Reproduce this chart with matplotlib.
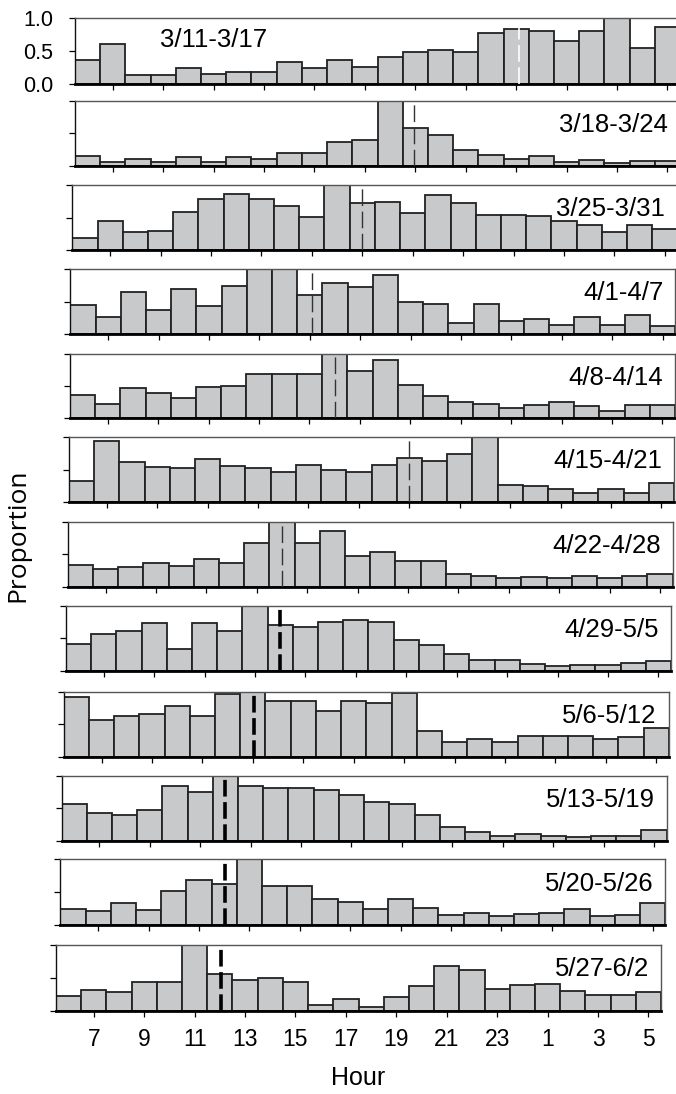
import matplotlib
matplotlib.use("Agg")
import matplotlib.pyplot as plt

# hours 6..23 then 0..5 (plotted at 6..29)
hours = list(range(6, 30))
tick_hours = list(range(7, 30, 2))
tick_labels = ["7", "9", "11", "13", "15", "17", "19", "21", "23", "1", "3", "5"]

weeks = ["3/11-3/17", "3/18-3/24", "3/25-3/31", "4/1-4/7", "4/8-4/14", "4/15-4/21",
         "4/22-4/28", "4/29-5/5", "5/6-5/12", "5/13-5/19", "5/20-5/26", "5/27-6/2"]

w1 = [0.36, 0.61, 0.13, 0.14, 0.25, 0.15, 0.19, 0.19, 0.33, 0.24, 0.37, 0.26,
      0.41, 0.49, 0.52, 0.49, 0.78, 0.84, 0.81, 0.66, 0.81, 1.00, 0.55, 0.87]
w2 = [0.15, 0.05, 0.11, 0.06, 0.14, 0.06, 0.13, 0.11, 0.19, 0.19, 0.36, 0.40,
      1.00, 0.58, 0.48, 0.24, 0.16, 0.10, 0.15, 0.06, 0.09, 0.04, 0.08, 0.08]
w3 = [0.19, 0.45, 0.28, 0.30, 0.58, 0.78, 0.86, 0.78, 0.68, 0.51, 1.00, 0.73,
      0.74, 0.57, 0.84, 0.72, 0.54, 0.54, 0.53, 0.44, 0.39, 0.27, 0.38, 0.33]
w4 = [0.45, 0.26, 0.65, 0.38, 0.69, 0.43, 0.75, 1.00, 1.00, 0.60, 0.79, 0.73,
      0.91, 0.49, 0.47, 0.17, 0.46, 0.21, 0.24, 0.15, 0.26, 0.15, 0.30, 0.13]
w5 = [0.36, 0.22, 0.47, 0.39, 0.32, 0.49, 0.51, 0.69, 0.69, 0.69, 1.00, 0.74,
      0.90, 0.52, 0.35, 0.25, 0.23, 0.16, 0.21, 0.26, 0.19, 0.12, 0.20, 0.21]
w6 = [0.32, 0.94, 0.62, 0.54, 0.52, 0.66, 0.56, 0.52, 0.46, 0.58, 0.49, 0.47,
      0.58, 0.68, 0.63, 0.74, 1.00, 0.27, 0.25, 0.21, 0.15, 0.21, 0.15, 0.30]
w7 = [0.33, 0.28, 0.30, 0.37, 0.32, 0.42, 0.37, 0.67, 1.00, 0.67, 0.85, 0.48,
      0.54, 0.40, 0.40, 0.19, 0.17, 0.13, 0.15, 0.13, 0.16, 0.13, 0.16, 0.20]
w8 = [0.41, 0.57, 0.62, 0.74, 0.34, 0.73, 0.62, 1.00, 0.71, 0.67, 0.75, 0.78,
      0.76, 0.47, 0.39, 0.26, 0.16, 0.16, 0.11, 0.08, 0.09, 0.09, 0.12, 0.15]
w9 = [0.92, 0.57, 0.62, 0.65, 0.78, 0.63, 0.97, 1.00, 0.86, 0.86, 0.71, 0.85,
      0.82, 0.98, 0.40, 0.23, 0.27, 0.23, 0.32, 0.32, 0.32, 0.27, 0.30, 0.44]
w10 = [0.56, 0.43, 0.40, 0.48, 0.84, 0.76, 1.00, 0.84, 0.81, 0.81, 0.79, 0.71,
       0.60, 0.57, 0.40, 0.21, 0.13, 0.07, 0.10, 0.08, 0.06, 0.08, 0.07, 0.16]
w11 = [0.25, 0.21, 0.33, 0.23, 0.51, 0.68, 0.63, 1.00, 0.59, 0.59, 0.40, 0.35,
       0.24, 0.40, 0.26, 0.15, 0.19, 0.13, 0.17, 0.18, 0.24, 0.13, 0.15, 0.33]
w12 = [0.23, 0.31, 0.28, 0.43, 0.43, 1.00, 0.56, 0.46, 0.50, 0.44, 0.09, 0.18,
       0.06, 0.21, 0.37, 0.68, 0.62, 0.33, 0.39, 0.40, 0.30, 0.24, 0.24, 0.29]
values = [w1, w2, w3, w4, w5, w6, w7, w8, w9, w10, w11, w12]

# mean hour marked by the dashed line
mean_hour = [23.1, 18.95, 17.0, 15.1, 16.0, 19.0, 14.0, 14.0, 13.05, 12.0, 12.05, 12.05]

# layout in pixels (the scanned panels lean slightly)
W, H = 676, 1094
lefts = [75, 75, 72.4, 70.3, 70, 69, 67.7, 66, 63.8, 61.6, 60.3, 56]
tops = [18.3, 101, 185, 269.3, 354, 437.3, 521.7, 606, 691.7, 776, 859.3, 945]
bottoms = [84, 165.7, 250, 334.3, 418.3, 502.3, 586.7, 670.7, 756.7, 840.7, 925, 1010.7]
pw = 605

fig = plt.figure(figsize=(W / 100, H / 100), dpi=100)
font = ["Liberation Sans", "DejaVu Sans"]

for i in range(12):
    ax = fig.add_axes([lefts[i] / W, 1 - bottoms[i] / H, pw / W, (bottoms[i] - tops[i]) / H])
    ax.bar(hours, values[i], width=1.0, color="#c8c9cb", edgecolor="#222222",
           linewidth=1.3, zorder=2)

    if i == 0:
        ls_col, lw = "white", 1.2
    elif i < 7:
        ls_col, lw = "#333333", 1.0
    else:
        ls_col, lw = "black", 2.6
    ax.axvline(mean_hour[i], color=ls_col, linewidth=lw,
               linestyle=(0, (12.0 / lw, 4.0 / lw)), zorder=3)

    ax.set_xlim(5.5, 29.5)
    ax.set_ylim(0, 1.0)
    ax.set_yticks([0, 0.5, 1.0])
    ax.set_xticks(tick_hours)
    ax.tick_params(direction="out", length=4.5, width=0.9, color="black")

    ax.spines["bottom"].set_linewidth(2.0)
    ax.spines["bottom"].set_color("black")
    ax.spines["left"].set_linewidth(1.0)
    ax.spines["left"].set_color("#111111")
    for s in ["top", "right"]:
        ax.spines[s].set_linewidth(1.0)
        ax.spines[s].set_color("#555555")

    if i == 0:
        ax.set_yticklabels(["0.0", "0.5", "1.0"], fontsize=15.5, family=font)
        ax.tick_params(axis="y", pad=11)
        ax.text(0.14, 0.67, weeks[i], transform=ax.transAxes, ha="left", va="center",
                fontsize=18.5, family=font)
    else:
        ax.set_yticklabels([])
        ax.text(0.98, 0.63, weeks[i], transform=ax.transAxes, ha="right", va="center",
                fontsize=18.5, family=font)

    if i == 11:
        ax.set_xticklabels(tick_labels, fontsize=16.5, family=font)
        ax.tick_params(axis="x", pad=8)
        ax.set_xlabel("Hour", fontsize=18, family=font, labelpad=11)
    else:
        ax.set_xticklabels([])

fig.text(18 / W, 1 - 535 / H, "Proportion", rotation=90, ha="center", va="center",
         fontsize=19, family=["Open Sans", "DejaVu Sans"])

fig.savefig("out.png", dpi=100)
